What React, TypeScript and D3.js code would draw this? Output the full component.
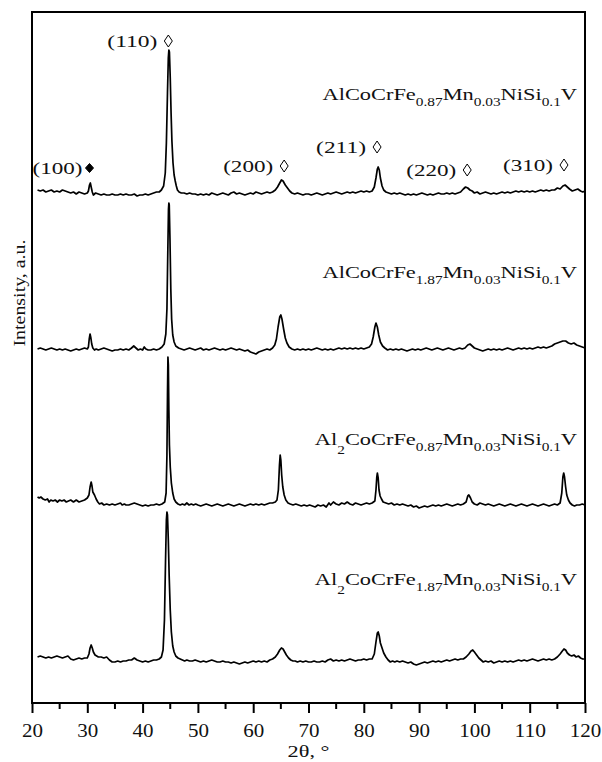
import React, { useRef, useEffect } from 'react';
import * as d3 from 'd3';

// XRD patterns, [2theta, intensity above own baseline]
const trace1: [number, number][] = [
  [21,3],[21.5,2],[22,3],[22.5,1],[23,2],[23.5,3],[24,1],[24.5,2],[25,1],[25.5,3],[26,2],[26.5,1],[27,0],[27.5,1],[28,-1],[28.5,1],[29,0],[29.5,-1],[30,0],
  [30.2,2],[30.4,8],[30.55,10],[30.7,6],[30.9,1],[31.1,-2],[31.5,0],[32,-1],[32.5,-2],[33,-1],[33.5,-2],[34,-2],[34.5,-1],[35,-2],[35.5,-2],[36,-1],[36.5,-2],
  [37,-1],[37.5,-2],[38,-2],[38.5,-1],[39,-3],[39.5,-2],[40,-2],[40.5,-1],[41,-2],[41.5,-1],[42,0],[42.5,1],[43,1],[43.4,3],[43.8,7],[44.1,20],[44.3,50],
  [44.5,100],[44.65,135],[44.75,143],[44.85,141],[45,115],[45.15,80],[45.3,52],[45.5,30],[45.7,18],[45.9,12],[46.1,7],[46.3,3],[46.6,1],[47,0],[47.5,0],
  [48,-1],[48.5,0],[49,-1],[49.5,-1],[50,-2],[50.5,-1],[51,-2],[51.5,-1],[52,-2],[52.5,0],[53,-1],[53.5,-2],[54,-1],[54.5,0],[55,-1],[55.5,-2],[56,0],
  [56.5,1],[57,-1],[57.5,0],[58,-1],[58.5,-2],[59,-1],[59.5,0],[60,-1],[60.5,1],[61,0],[61.5,-1],[62,0],[62.5,1],[63,0],[63.5,1],[64,3],[64.4,6],[64.8,10],
  [65.1,13],[65.4,12],[65.8,8],[66.2,5],[66.6,2],[67,0],[67.5,-1],[68,0],[68.5,-1],[69,-2],[69.5,-1],[70,-1],[70.5,-2],[71,-1],[71.5,0],[72,-1],[72.5,-2],
  [73,-1],[73.5,0],[74,-1],[74.5,0],[75,1],[75.5,0],[76,-1],[76.5,0],[77,1],[77.5,0],[78,1],[78.5,0],[79,1],[79.5,2],[80,1],[80.5,2],[81,1],[81.5,2],
  [81.9,6],[82.2,15],[82.45,24],[82.6,26],[82.8,23],[83,15],[83.3,7],[83.6,3],[84,1],[84.5,0],[85,-1],[85.5,0],[86,-1],[86.5,0],[87,-1],[87.5,-2],[88,-1],
  [88.5,-2],[89,-1],[89.5,-2],[90,-1],[90.5,0],[91,-1],[91.5,-2],[92,-1],[92.5,-2],[93,-1],[93.5,0],[94,-1],[94.5,-1],[95,0],[95.5,-1],[96,0],[96.5,-1],
  [97,0],[97.5,1],[98,4],[98.4,6],[98.8,5],[99.2,3],[99.6,2],[100,0],[100.5,1],[101,-1],[101.5,0],[102,1],[102.5,0],[103,-1],[103.5,0],[104,-1],[104.5,0],
  [105,1],[105.5,0],[106,1],[106.5,0],[107,1],[107.5,2],[108,1],[108.5,2],[109,1],[109.5,2],[110,1],[110.5,2],[111,1],[111.5,2],[112,3],[112.5,2],[113,3],
  [113.5,2],[114,3],[114.5,3],[115,5],[115.5,4],[116,7],[116.4,8],[116.8,6],[117.2,4],[117.7,2],[118.2,3],[118.7,4],[119.2,2],[119.6,1],[120,2]
];

const trace2: [number, number][] = [
  [21,0],[21.5,1],[22,0],[22.5,-1],[23,0],[23.5,1],[24,0],[24.5,-1],[25,0],[25.5,-1],[26,0],[26.5,-1],[27,-2],[27.5,-1],[28,0],[28.5,-1],[29,0],[29.5,1],
  [30,0],[30.2,2],[30.35,10],[30.5,15],[30.65,11],[30.8,5],[31,1],[31.3,-1],[31.6,0],[32,-1],[32.5,0],[33,1],[33.5,0],[34,-1],[34.5,-2],[35,-1],[35.5,-1],
  [36,0],[36.5,-1],[37,0],[37.5,-1],[38,1],[38.4,3],[38.8,1],[39.2,-1],[39.6,0],[40,-1],[40.3,2],[40.6,0],[41,-1],[41.5,-1],[42,0],[42.5,-1],[43,0],
  [43.5,2],[43.9,5],[44.2,15],[44.4,40],[44.55,95],[44.68,140],[44.75,146],[44.82,144],[44.95,110],[45.1,60],[45.25,30],[45.45,14],[45.7,7],[46,3],
  [46.5,1],[47,0],[47.5,-1],[48,0],[48.5,1],[49,0],[49.5,-1],[50,0],[50.5,1],[51,-1],[51.5,0],[52,-1],[52.5,0],[53,1],[53.5,0],[54,-1],[54.5,0],[55,-1],
  [55.5,0],[56,1],[56.5,0],[57,-1],[57.5,0],[58,-1],[58.5,-2],[59,-1],[59.5,-3],[60,-4],[60.5,-5],[61,-3],[61.5,-2],[62,-1],[62.5,0],[63,-1],[63.5,1],
  [63.9,4],[64.2,10],[64.5,22],[64.8,32],[65,34],[65.2,30],[65.5,20],[65.8,11],[66.1,6],[66.5,2],[67,0],[67.5,-1],[68,0],[68.5,-1],[69,0],[69.5,-1],
  [70,0],[70.5,-1],[71,0],[71.5,1],[72,0],[72.5,-1],[73,0],[73.5,-1],[74,0],[74.5,-1],[75,0],[75.5,1],[76,0],[76.5,1],[77,0],[77.5,1],[78,0],[78.5,1],
  [79,0],[79.5,1],[80,0],[80.5,1],[81,2],[81.4,5],[81.7,12],[82,22],[82.2,26],[82.45,22],[82.7,14],[83,7],[83.4,3],[83.8,1],[84.3,-1],[84.8,0],[85.3,-1],
  [85.8,0],[86.3,-1],[86.8,0],[87.3,-1],[87.8,-2],[88.3,-1],[88.8,0],[89.3,-1],[89.8,0],[90.3,-1],[90.8,0],[91.3,1],[91.8,0],[92.3,-1],[92.8,0],[93.3,1],
  [93.8,0],[94.3,-1],[94.8,0],[95.3,1],[95.8,0],[96.3,-1],[96.8,0],[97.3,1],[97.8,0],[98.3,1],[98.8,4],[99.2,5],[99.6,3],[100,1],[100.5,0],[101,-1],
  [101.5,-2],[102,-1],[102.5,0],[103,-1],[103.5,0],[104,-1],[104.5,0],[105,-1],[105.5,0],[106,1],[106.5,0],[107,-1],[107.5,0],[108,1],[108.5,0],[109,1],
  [109.5,0],[110,1],[110.5,0],[111,1],[111.5,2],[112,1],[112.5,2],[113,1],[113.5,2],[114,3],[114.5,5],[115,6],[115.5,7],[116,8],[116.5,8],[117,6],
  [117.5,5],[118,6],[118.5,4],[119,3],[119.5,2],[120,1]
];

const trace3: [number, number][] = [
  [21,8],[21.3,7],[21.6,8],[22,6],[22.4,5],[22.8,6],[23.1,3],[23.4,5],[23.8,4],[24.2,5],[24.6,3],[25,5],[25.4,4],[25.8,5],[26.2,3],[26.6,4],[27,5],[27.5,3],
  [28,5],[28.5,3],[29,4],[29.5,5],[30,7],[30.3,10],[30.5,18],[30.7,23],[30.85,19],[31,13],[31.3,10],[31.6,6],[31.9,3],[32.2,1],[32.6,2],[33,0],[33.5,1],
  [34,0],[34.5,1],[35,0],[35.5,1],[36,2],[36.3,0],[36.7,1],[37,0],[37.5,0],[38,1],[38.5,2],[39,1],[39.5,0],[40,-1],[40.5,0],[41,-1],[41.5,0],[42,0],
  [42.5,1],[43,0],[43.5,1],[44,3],[44.25,12],[44.4,50],[44.5,110],[44.58,148],[44.66,140],[44.75,95],[44.85,60],[45,38],[45.2,22],[45.45,12],[45.7,6],
  [46,3],[46.4,1],[46.8,0],[47.2,1],[47.6,0],[48,2],[48.4,0],[48.8,1],[49.2,0],[49.6,1],[50,0],[50.5,-1],[51,0],[51.5,1],[52,0],[52.5,-1],[53,0],[53.5,1],
  [54,0],[54.5,-1],[55,0],[55.5,1],[56,0],[56.5,-1],[57,0],[57.5,1],[58,0],[58.5,-1],[59,0],[59.5,1],[60,0],[60.5,1],[61,0],[61.5,1],[62,0],[62.5,1],
  [63,2],[63.5,2],[64,3],[64.3,5],[64.55,15],[64.75,40],[64.88,50],[65,45],[65.15,30],[65.35,18],[65.6,10],[65.9,5],[66.3,2],[66.7,1],[67.2,0],[67.7,1],
  [68.2,0],[68.7,-1],[69.2,0],[69.7,-1],[70.2,0],[70.7,-1],[71.2,-2],[71.7,0],[72.2,-1],[72.7,0],[73.2,-2],[73.7,2],[74,0],[74.5,3],[75,1],[75.5,0],
  [76,2],[76.5,1],[77,3],[77.5,1],[78,0],[78.5,2],[79,1],[79.5,0],[80,1],[80.5,2],[81,1],[81.5,2],[82,4],[82.2,15],[82.35,28],[82.45,32],[82.6,27],
  [82.75,15],[82.95,9],[83.2,6],[83.5,3],[84,2],[84.5,1],[85,2],[85.5,0],[86,1],[86.5,0],[87,1],[87.5,0],[88,-1],[88.5,0],[89,-2],[89.5,-1],[90,-3],
  [90.5,-2],[91,-1],[91.5,-2],[92,-1],[92.5,0],[93,-1],[93.5,0],[94,-1],[94.5,0],[95,1],[95.5,0],[96,-1],[96.5,0],[97,1],[97.5,0],[98,1],[98.5,3],
  [98.8,9],[99,10],[99.3,7],[99.6,3],[100,1],[100.5,0],[101,2],[101.5,1],[102,0],[102.5,1],[103,0],[103.5,-1],[104,0],[104.5,1],[105,0],[105.5,-1],
  [106,0],[106.5,1],[107,0],[107.5,-1],[108,0],[108.5,1],[109,0],[109.5,-1],[110,0],[110.5,1],[111,0],[111.5,-1],[112,0],[112.5,1],[113,0],[113.5,-1],
  [114,0],[114.5,1],[115,0],[115.5,2],[115.8,12],[116,28],[116.15,32],[116.3,28],[116.5,18],[116.7,10],[117,5],[117.3,2],[117.7,0],[118.1,-1],[118.5,0],
  [119,0],[119.5,1],[120,0]
];

const trace4: [number, number][] = [
  [21,3],[21.5,4],[22,3],[22.5,2],[23,3],[23.5,2],[24,3],[24.5,4],[25,3],[25.5,2],[26,3],[26.5,4],[27,1],[27.5,0],[28,1],[28.5,2],[29,1],[29.5,2],[30,2],
  [30.3,6],[30.5,12],[30.7,15],[30.9,12],[31.1,8],[31.4,5],[31.7,4],[32,3],[32.5,3],[33,2],[33.5,3],[34,0],[34.5,-2],[35,-2],[35.5,-1],[36,-2],[36.5,-1],
  [37,-1],[37.5,0],[38,0],[38.5,2],[39,0],[39.5,-1],[40,-2],[40.5,-1],[41,-2],[41.5,-1],[42,0],[42.5,0],[43,1],[43.4,3],[43.7,10],[43.95,40],[44.15,100],
  [44.3,140],[44.4,148],[44.5,145],[44.65,120],[44.8,85],[45,50],[45.2,28],[45.45,14],[45.7,8],[46,4],[46.4,2],[46.8,1],[47.2,0],[47.6,-1],[48,0],
  [48.5,-1],[49,-1],[49.5,0],[50,-1],[50.5,-2],[51,-1],[51.5,-2],[52,-1],[52.5,0],[53,-1],[53.5,-2],[54,-2],[54.5,-1],[55,-2],[55.5,-2],[56,-3],[56.5,-2],
  [57,-3],[57.5,-4],[58,-3],[58.5,-2],[59,-3],[59.5,-2],[60,-1],[60.5,-2],[61,-1],[61.5,-2],[62,-1],[62.5,-2],[63,0],[63.5,1],[64,3],[64.4,6],[64.8,10],
  [65.1,12],[65.4,11],[65.7,8],[66,5],[66.4,2],[66.8,0],[67.2,-1],[67.6,-1],[68,-2],[68.5,-1],[69,-2],[69.5,-1],[70,-2],[70.5,-2],[71,-1],[71.5,-2],
  [72,-2],[72.5,-1],[73,-2],[73.5,0],[74,1],[74.5,-1],[75,0],[75.5,-1],[76,0],[76.5,-1],[77,0],[77.5,1],[78,0],[78.5,-1],[79,0],[79.5,0],[80,1],[80.5,0],
  [81,1],[81.5,1],[81.9,6],[82.2,18],[82.45,27],[82.6,28],[82.8,24],[83,17],[83.3,12],[83.6,7],[84,3],[84.4,0],[84.8,-2],[85.2,-1],[85.6,-2],[86,-1],
  [86.5,-2],[87,-1],[87.5,-2],[88,-3],[88.5,-2],[89,-4],[89.5,-5],[90,-4],[90.5,-3],[91,-2],[91.5,-3],[92,-2],[92.5,-1],[93,-2],[93.5,-1],[94,-2],
  [94.5,-1],[95,0],[95.5,-1],[96,0],[96.5,1],[97,0],[97.5,1],[98,1],[98.5,3],[99,6],[99.4,9],[99.7,10],[100,8],[100.4,5],[100.8,2],[101.2,0],[101.6,-2],
  [102,-1],[102.5,-2],[103,-1],[103.5,-3],[104,-2],[104.5,-1],[105,-2],[105.5,-1],[106,-2],[106.5,-1],[107,-2],[107.5,-1],[108,0],[108.5,-1],[109,0],
  [109.5,-1],[110,0],[110.5,1],[111,0],[111.5,-1],[112,0],[112.5,1],[113,0],[113.5,1],[114,0],[114.5,1],[115,3],[115.5,6],[115.9,9],[116.2,11],[116.5,10],
  [116.8,7],[117.2,5],[117.6,4],[118,5],[118.4,3],[118.8,4],[119.2,2],[119.6,1],[120,1]
];

// vertical shift of each pattern (a.u.)
const traces = [trace1, trace2, trace3, trace4];
const offsets = [510, 354, 198, 43];

// sample names: [text, subscript?]
const names: [string, boolean][][] = [
  [["AlCoCrFe", false], ["0.87", true], ["Mn", false], ["0.03", true], ["NiSi", false], ["0.1", true], ["V", false]],
  [["AlCoCrFe", false], ["1.87", true], ["Mn", false], ["0.03", true], ["NiSi", false], ["0.1", true], ["V", false]],
  [["Al", false], ["2", true], ["CoCrFe", false], ["0.87", true], ["Mn", false], ["0.03", true], ["NiSi", false], ["0.1", true], ["V", false]],
  [["Al", false], ["2", true], ["CoCrFe", false], ["1.87", true], ["Mn", false], ["0.03", true], ["NiSi", false], ["0.1", true], ["V", false]]
];

// reflections marked on the top pattern
const hkl = ["(100)", "(110)", "(200)", "(211)", "(220)", "(310)"];
const hklPos = [30.4, 44.65, 65.6, 82.4, 98.7, 116.2];
const hklFilled = [true, false, false, false, false, false];

const xTicks = [20, 30, 40, 50, 60, 70, 80, 90, 100, 110, 120];

const App = () => {
  const svgRef = useRef<SVGSVGElement>(null);

  const svg_width = 602;
  const svg_height = 762;
  const margin = { top: 12, right: 17, bottom: 59, left: 32 };
  const width = svg_width - margin.left - margin.right;
  const height = svg_height - margin.top - margin.bottom;

  useEffect(() => {
    const svg = d3.select(svgRef.current);
    svg.selectAll("*").remove();
    const font = "'Liberation Serif', 'Times New Roman', serif";

    const x = d3.scaleLinear().domain([20, 120]).range([0, width]);
    const y = d3.scaleLinear().domain([0, height]).range([height, 0]);

    const g = svg.append("g").attr("transform", `translate(${margin.left},${margin.top})`);

    // patterns
    const line = d3.line<[number, number]>()
      .x(d => x(d[0]))
      .y(d => y(d[1]));
    traces.forEach((tr, i) => {
      g.append("path")
        .datum(tr.map(d => [d[0], d[1] + offsets[i]] as [number, number]))
        .attr("d", line)
        .attr("fill", "none")
        .attr("stroke", "#000")
        .attr("stroke-width", 1.7)
        .attr("stroke-linejoin", "round");
    });

    // frame
    g.append("rect")
      .attr("x", 0).attr("y", 0)
      .attr("width", width).attr("height", height)
      .attr("fill", "none").attr("stroke", "#000").attr("stroke-width", 2);

    // x axis
    const xAxis = d3.axisBottom(x).tickValues(xTicks).tickSize(10).tickFormat(d3.format("d"));
    const ax = g.append("g").attr("transform", `translate(0,${height})`).call(xAxis);
    ax.select(".domain").remove();
    ax.selectAll("line").attr("stroke-width", 2);
    ax.selectAll<SVGTextElement, number>("text")
      .attr("y", 0).attr("dy", 0)
      .attr("transform", "translate(0,34)")
      .attr("textLength", d => String(d).length * 10.5)
      .attr("lengthAdjust", "spacingAndGlyphs")
      .style("font-family", font).style("font-size", "18px").attr("fill", "#111");
    const minor = d3.range(25, 120, 10);
    g.append("g").selectAll("line").data(minor).enter().append("line")
      .attr("x1", d => x(d)).attr("x2", d => x(d))
      .attr("y1", height).attr("y2", height + 6)
      .attr("stroke", "#000").attr("stroke-width", 2);

    // axis titles
    svg.append("text")
      .attr("x", margin.left + width / 2).attr("y", 757)
      .attr("text-anchor", "middle")
      .attr("textLength", 42).attr("lengthAdjust", "spacingAndGlyphs")
      .style("font-family", font).style("font-size", "17px").attr("fill", "#111")
      .text("2θ, °");
    svg.append("text")
      .attr("transform", "translate(25,293) rotate(-90)")
      .attr("text-anchor", "middle")
      .attr("textLength", 107).attr("lengthAdjust", "spacingAndGlyphs")
      .style("font-family", font).style("font-size", "17px").attr("fill", "#111")
      .text("Intensity, a.u.");

    // sample names, stretched horizontally like the original print
    const nameY = [100, 278, 445, 585];
    names.forEach((parts, i) => {
      const t = svg.append("text")
        .attr("transform", `translate(577,${nameY[i]}) scale(1.28,1)`)
        .attr("x", 0).attr("y", 0)
        .attr("text-anchor", "end")
        .style("font-family", font).style("font-size", "17.5px").attr("fill", "#111");
      let shifted = 0;
      parts.forEach(([s, sub]) => {
        const drop = s === "2" ? 9 : 6;
        const dy = sub ? drop - shifted : -shifted;
        shifted = sub ? drop : 0;
        t.append("tspan")
          .attr("dy", dy)
          .style("font-size", sub ? "12px" : "17.5px")
          .text(s);
      });
    });

    // reflection labels
    const hklY = [174, 47, 172, 153, 176, 171];
    hkl.forEach((h, i) => {
      const cx = margin.left + x(hklPos[i]);
      svg.append("text")
        .attr("x", cx - (hklFilled[i] ? 7 : 11)).attr("y", hklY[i])
        .attr("text-anchor", "end")
        .attr("textLength", 50).attr("lengthAdjust", "spacingAndGlyphs")
        .style("font-family", font).style("font-size", "17px").attr("fill", "#111")
        .text(h);
      const cy = hklY[i] - 6;
      const path = hklFilled[i]
        ? `M${cx},${cy - 4.5}L${cx + 4},${cy}L${cx},${cy + 4.5}L${cx - 4},${cy}Z`
        : `M${cx},${cy - 6}L${cx + 4},${cy}L${cx},${cy + 6}L${cx - 4},${cy}Z`;
      svg.append("path")
        .attr("d", path)
        .attr("fill", hklFilled[i] ? "#000" : "none")
        .attr("stroke", "#000").attr("stroke-width", 1);
    });
  }, []);

  return (
    <svg ref={svgRef} width={svg_width} height={svg_height}
      style={{ position: "absolute", left: 0, top: 0, background: "#fff" }} />
  );
};

export default App;
